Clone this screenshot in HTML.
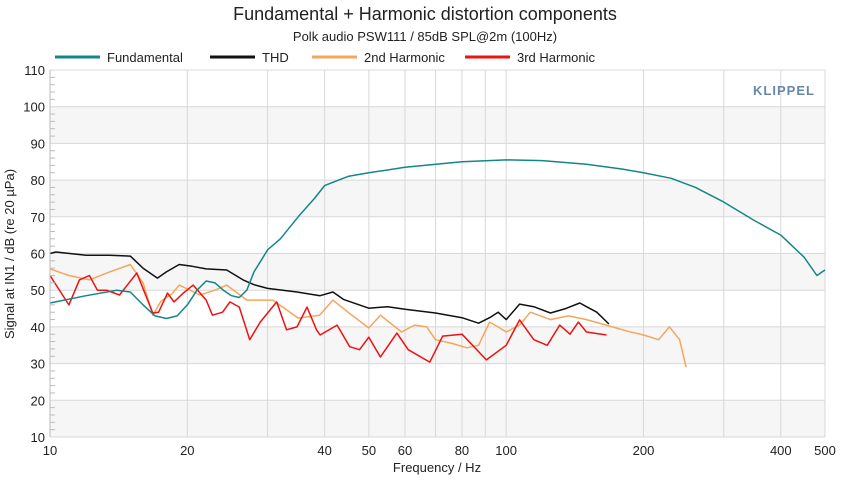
<!DOCTYPE html>
<html><head><meta charset="utf-8"><style>
body{margin:0;background:#fff;font-family:"Liberation Sans",sans-serif}
svg text{font-family:"Liberation Sans",sans-serif}
</style></head><body>
<svg id="chart" width="850" height="478" viewBox="0 0 850 478" xmlns="http://www.w3.org/2000/svg">
<text x="425" y="20" text-anchor="middle" font-size="18" fill="#222">Fundamental + Harmonic distortion components</text>
<text x="425" y="41" text-anchor="middle" font-size="13" fill="#222">Polk audio PSW111 / 85dB SPL@2m (100Hz)</text>
<g id="legend"></g>
<g id="grid"></g>
<g id="series"></g>
<g id="axes"></g>
<g>
<text x="784" y="95" text-anchor="middle" font-size="13" font-weight="bold" fill="#6a86a8" letter-spacing="1">KLIPPEL</text>
</g>
<text x="437" y="472" text-anchor="middle" font-size="13" fill="#222">Frequency / Hz</text>
<text transform="translate(14,254) rotate(-90)" text-anchor="middle" font-size="13" fill="#222">Signal at IN1 / dB (re 20 µPa)</text>
</svg>
<script>
const xTicks=[10,20,30,40,50,60,70,80,90,100,200,300,400,500];
const xTickLabels=["10","20","","40","50","60","","80","","100","200","","400","500"];
const yTicks=[10,20,30,40,50,60,70,80,90,100,110];
const fundF=[10,12,14,15,16,17,18,19,20,21,22,23,24,25,26,27,28,29,30,32,35,38,40,45,50,60,80,100,120,150,180,200,230,260,300,350,400,450,480,500];
const fundV=[46.5,48.5,50,49.5,46,43,42.3,43,46,50,52.5,52,50,48.5,48,50,55,58,61,64,70,75,78.5,81,82,83.5,85,85.5,85.3,84.3,83,82,80.5,78,74,69,65,59,54,55.5];
const thdF=[10,10.3,12,13.5,15,16,17.2,18,19.2,20.5,22,24.4,26.5,28,30,34.8,39.1,41.7,44,50,55,60,70,80,87,92,96,100,107,115,125,135,145,150,158,168];
const thdV=[60,60.4,59.5,59.5,59.3,56,53.3,55,57,56.5,55.8,55.5,52.8,51.5,50.5,49.5,48.5,49.5,47.5,45.1,45.5,44.8,43.8,42.5,41,42.5,44,42,46.2,45.5,43.8,45,46.5,45.5,44,40.8];
const h2F=[10,11,12.2,13.5,15,16,16.8,17.5,18.5,19.2,21.3,23,24.4,27,30.8,35,39,41.7,45,50,53,59,63,67,70,76,82,87,92,96,100,107,113,125,137,150,171,185,200,216,228,240,248];
const h2V=[55.8,54,52.8,55,57,52,43.2,47,49,51.4,48.7,50,51.4,47.3,47.3,42.4,43.2,47.3,44,39.7,43.2,38.6,40.5,40,36.5,35.5,34.3,35,41.3,40,38.6,40.5,44,42,43,42,40,38.8,37.8,36.5,40,36.5,29];
const h3F=[10,11,11.6,12.2,12.7,13.3,14.2,15.5,16.8,17.3,18.1,18.7,19.6,20.6,22,22.7,23.9,24.8,26,27.4,28.9,31.4,33,34.8,36.6,38.4,39.1,42.6,45.4,47.7,50,53,57.6,61,68,72.6,80,90.5,100,107,115,123,131,138,144,150,166];
const h3V=[54,46,52.8,54,50,50,48.7,54.7,43.8,44,49.2,46.8,49.2,51.4,47.3,43.2,44,46.8,45.4,36.5,41.3,46.8,39.2,40,45.4,39.2,37.8,40.5,34.6,33.8,37.2,31.8,38.3,33.8,30.4,37.5,38,31,35,41.9,36.5,35,40.5,38,41.3,38.6,37.8];
const NS="http://www.w3.org/2000/svg";
const X0=50,X1=825,Y0=437,Y1=70;
const sx=f=>X0+(Math.log10(f)-1)/Math.log10(50)*(X1-X0);
const sy=v=>Y0-(v-10)/100*(Y0-Y1);
function mk(p,t,a){const e=document.createElementNS(NS,t);for(const k in a)e.setAttribute(k,a[k]);p.appendChild(e);return e;}
const grid=document.getElementById('grid'),axes=document.getElementById('axes'),ser=document.getElementById('series'),leg=document.getElementById('legend');
for(let v=10;v<110;v+=20){const r=mk(grid,'rect',{x:X0,y:sy(v+10),width:X1-X0,height:sy(v)-sy(v+10),fill:'#f6f6f6'});

}
yTicks.forEach(v=>{const l=mk(grid,'line',{x1:X0,x2:X1,y1:sy(v),y2:sy(v),stroke:'#d8d8d8','stroke-width':1});


const t=mk(axes,'text',{x:X0-5,y:sy(v)+5,'text-anchor':'end','font-size':13,fill:'#222'});t.textContent=v;

});
for(let v=10;v<110;v+=2){mk(axes,'line',{x1:X0,x2:X0+(v%10?5:0),y1:sy(v),y2:sy(v),stroke:'#bbb'});}
xTicks.forEach((f,i)=>{const l=mk(grid,'line',{x1:sx(f),x2:sx(f),y1:Y1,y2:Y0,stroke:'#d8d8d8','stroke-width':1});


const t=mk(axes,'text',{x:sx(f),y:455,'text-anchor':'middle','font-size':13,fill:'#222'});t.textContent=xTickLabels[i];

});
mk(axes,'line',{x1:X0,x2:X0,y1:Y1,y2:Y0,stroke:'#bbb'});
function series(F,V,c,name){const d=F.map((f,i)=>(i?'L':'M')+sx(f).toFixed(1)+','+sy(V[i]).toFixed(1)).join('');
const p=mk(ser,'path',{d:d,fill:'none',stroke:c,'stroke-width':1.5,'stroke-linejoin':'round'});

}
series(h2F,h2V,'#f5a65b','series-2nd-harmonic');
series(h3F,h3V,'#ee1111','series-3rd-harmonic');
series(thdF,thdV,'#111111','series-thd');
series(fundF,fundV,'#138787','series-fundamental');
const legItems=[[55,'#138787','Fundamental'],[210,'#111','THD'],[312,'#f5a65b','2nd Harmonic'],[465,'#ee1111','3rd Harmonic']];
legItems.forEach(([x,c,n])=>{const g=mk(leg,'g',{});


mk(g,'line',{x1:x,x2:x+45,y1:57,y2:57,stroke:c,'stroke-width':3});
const t=mk(g,'text',{x:x+52,y:62,'font-size':13,fill:'#222'});t.textContent=n;});
</script>
</body></html>
